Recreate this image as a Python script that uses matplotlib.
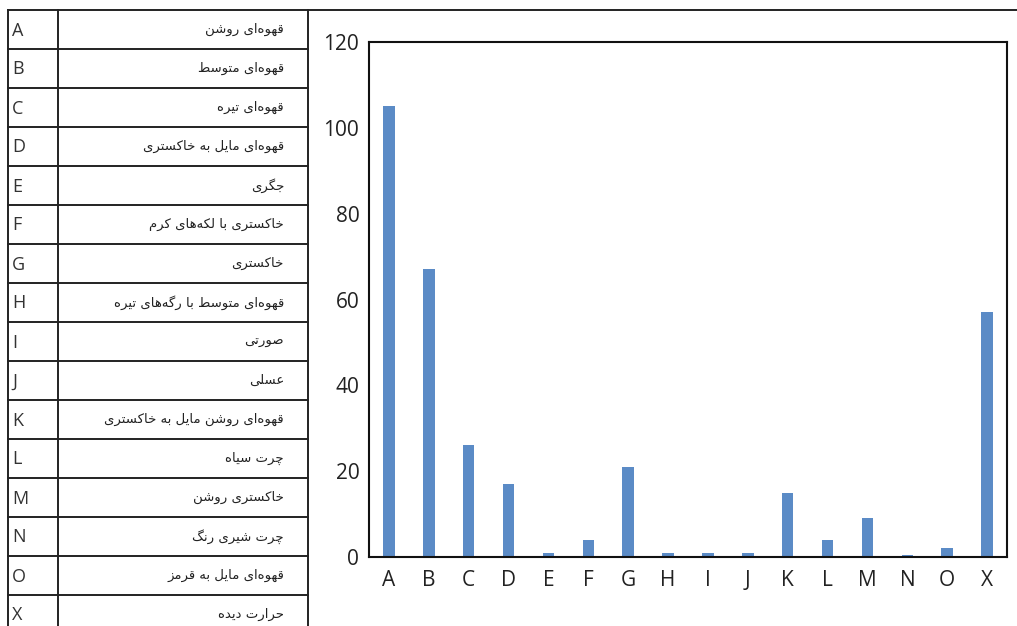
import matplotlib
matplotlib.use("Agg")
import matplotlib.pyplot as plt

# ---------------- data ----------------
categories = ["A", "B", "C", "D", "E", "F", "G", "H", "I", "J", "K", "L", "M", "N", "O", "X"]
values = [105, 67, 26, 17, 1, 4, 21, 1, 1, 1, 15, 4, 9, 0.4, 2, 57]
descriptions = [
    "قهوه‌ای روشن",
    "قهوه‌ای متوسط",
    "قهوه‌ای تیره",
    "قهوه‌ای مایل به خاکستری",
    "جگری",
    "خاکستری با لکه‌های کرم",
    "خاکستری",
    "قهوه‌ای متوسط با رگه‌های تیره",
    "صورتی",
    "عسلی",
    "قهوه‌ای روشن مایل به خاکستری",
    "چرت سیاه",
    "خاکستری روشن",
    "چرت شیری رنگ",
    "قهوه‌ای مایل به قرمز",
    "حرارت دیده",
]
y_ticks = [0, 20, 40, 60, 80, 100, 120]

# ---------------- minimal Persian shaper ----------------
# (isolated, final, initial, medial); right-joining letters have None for initial/medial
FORMS = {
    "ا": (0xFE8D, 0xFE8E, None, None),
    "ب": (0xFE8F, 0xFE90, 0xFE91, 0xFE92),
    "ت": (0xFE95, 0xFE96, 0xFE97, 0xFE98),
    "ج": (0xFE9D, 0xFE9E, 0xFE9F, 0xFEA0),
    "ح": (0xFEA1, 0xFEA2, 0xFEA3, 0xFEA4),
    "خ": (0xFEA5, 0xFEA6, 0xFEA7, 0xFEA8),
    "د": (0xFEA9, 0xFEAA, None, None),
    "ر": (0xFEAD, 0xFEAE, None, None),
    "ز": (0xFEAF, 0xFEB0, None, None),
    "س": (0xFEB1, 0xFEB2, 0xFEB3, 0xFEB4),
    "ش": (0xFEB5, 0xFEB6, 0xFEB7, 0xFEB8),
    "ص": (0xFEB9, 0xFEBA, 0xFEBB, 0xFEBC),
    "ط": (0xFEC1, 0xFEC2, 0xFEC3, 0xFEC4),
    "ع": (0xFEC9, 0xFECA, 0xFECB, 0xFECC),
    "ف": (0xFED1, 0xFED2, 0xFED3, 0xFED4),
    "ق": (0xFED5, 0xFED6, 0xFED7, 0xFED8),
    "ک": (0xFB8E, 0xFB8F, 0xFB90, 0xFB91),
    "گ": (0xFB92, 0xFB93, 0xFB94, 0xFB95),
    "ل": (0xFEDD, 0xFEDE, 0xFEDF, 0xFEE0),
    "م": (0xFEE1, 0xFEE2, 0xFEE3, 0xFEE4),
    "ن": (0xFEE5, 0xFEE6, 0xFEE7, 0xFEE8),
    "ه": (0xFEE9, 0xFEEA, 0xFEEB, 0xFEEC),
    "و": (0xFEED, 0xFEEE, None, None),
    "ی": (0xFBFC, 0xFBFD, 0xFBFE, 0xFBFF),
    "چ": (0xFB7A, 0xFB7B, 0xFB7C, 0xFB7D),
}


def shape(text):
    text = text.replace("ي", "ی").replace("ك", "ک")
    chars = list(text)
    out = []
    for i, c in enumerate(chars):
        if c == "\u200c":
            continue
        if c not in FORMS:
            out.append(c)
            continue
        prev = chars[i - 1] if i > 0 else None
        nxt = chars[i + 1] if i + 1 < len(chars) else None
        dual = FORMS[c][2] is not None
        jp = prev in FORMS and FORMS[prev][2] is not None
        jn = dual and nxt in FORMS
        iso, fin, ini, med = FORMS[c]
        if jp and jn:
            g = med
        elif jn:
            g = ini
        elif jp:
            g = fin
        else:
            g = iso
        out.append(chr(g))
    return "".join(reversed(out))


# ---------------- figure ----------------
W, H = 1017, 626
fig = plt.figure(figsize=(W / 100, H / 100), dpi=100)
fig.patch.set_facecolor("white")

# table drawn in pixel coordinates
tab = fig.add_axes([0, 0, 1, 1])
tab.set_xlim(0, W)
tab.set_ylim(H, 0)
tab.axis("off")

top, row_h = 10, 39
x_left, x_mid, x_right = 8, 58, 308
n = len(categories)
tab.plot([x_left, W], [top, top], color="#222222", lw=1.4)
for i in range(1, n + 1):
    y = top + i * row_h
    tab.plot([x_left, x_right], [y, y], color="#222222", lw=1.4)
for x in (x_left, x_mid, x_right):
    tab.plot([x, x], [top, top + n * row_h], color="#222222", lw=1.4)

for i, (cat, desc) in enumerate(zip(categories, descriptions)):
    yc = top + (i + 0.5) * row_h
    tab.text(12, yc + 1, cat, ha="left", va="center", fontsize=13,
             family=["Open Sans", "DejaVu Sans"], color="#333333")
    tab.text(284, yc, shape(desc), ha="right", va="center", fontsize=9.5,
             family=["DejaVu Sans"], color="#222222")

# bar chart
ax_l, ax_r, ax_t, ax_b = 369, 1007, 42, 557
ax = fig.add_axes([ax_l / W, (H - ax_b) / H, (ax_r - ax_l) / W, (ax_b - ax_t) / H])
x = list(range(n))
ax.bar(x, values, width=0.29, color="#5B8BC6", zorder=2)
ax.set_xlim(-0.5, n - 0.5)
ax.set_ylim(0, 120)
ax.set_yticks(y_ticks)
ax.set_yticklabels([str(v) for v in y_ticks])
ax.set_xticks(x)
ax.set_xticklabels(categories)
ax.tick_params(axis="both", length=0, labelsize=15, colors="#222222")
ax.tick_params(axis="x", pad=9)
ax.tick_params(axis="y", pad=7)
for lab in ax.get_xticklabels() + ax.get_yticklabels():
    lab.set_family(["Open Sans", "DejaVu Sans"])
for s in ax.spines.values():
    s.set_color("#111111")
    s.set_linewidth(1.5)

fig.savefig("out.png", dpi=100, facecolor="white")
